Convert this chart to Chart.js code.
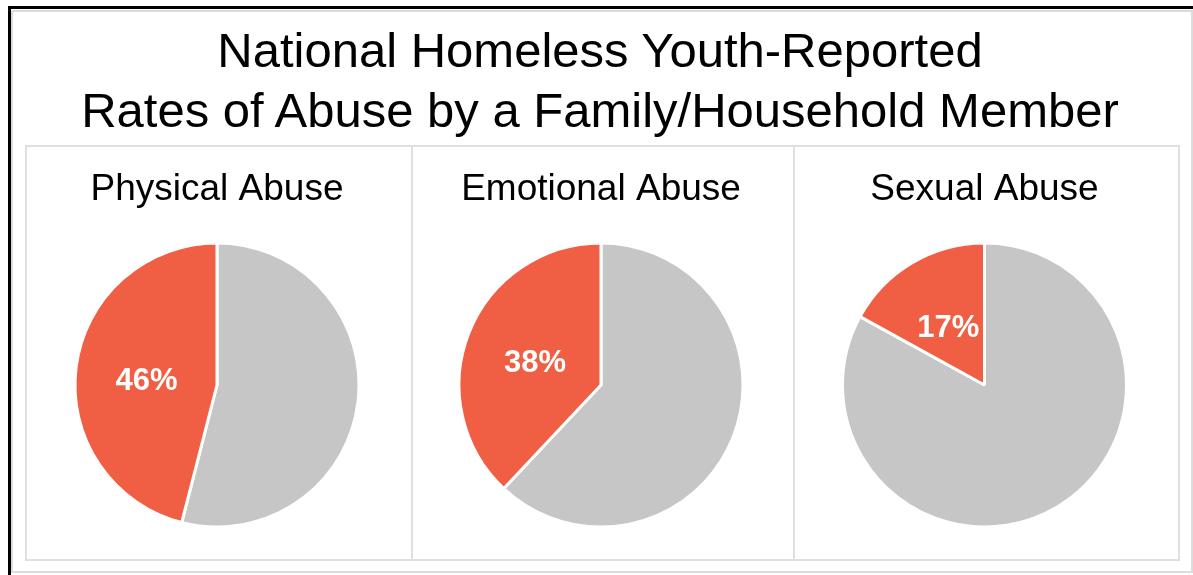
<!DOCTYPE html>
<html>
<head>
<meta charset="utf-8">
<script src="https://cdn.jsdelivr.net/npm/chart.js@4.4.1/dist/chart.umd.min.js"></script>
<style>
  html, body { margin: 0; padding: 0; background: #fff; }
  body { width: 1193px; height: 575px; position: relative; overflow: hidden; font-family: "Liberation Sans", Arial, sans-serif; }
  #frame { position: absolute; left: 8px; top: 6px; width: 1185px; height: 569px; border-left: 3px solid #000; border-top: 3px solid #000; box-sizing: border-box; }
  #inner { position: absolute; left: 11px; top: 10px; width: 1182px; height: 563px; border: 2px solid #DCDCDC; box-sizing: border-box; }
  #title { position: absolute; left: 0; top: 20px; width: 1200px; text-align: center; font-size: 49px; line-height: 60px; color: #000; }
  .panel { position: absolute; top: 145px; height: 416px; border: 2px solid #E0E0E0; box-sizing: border-box; }
  .panel canvas { display: block; }
</style>
</head>
<body>
<div id="frame"></div>
<div id="inner"></div>
<div id="title">National Homeless Youth-Reported<br>Rates of Abuse by a Family/Household Member</div>
<div class="panel" id="p0" style="left:25px; width:388px;"><canvas id="c0"></canvas></div>
<div class="panel" id="p1" style="left:411px; width:384px;"><canvas id="c1"></canvas></div>
<div class="panel" id="p2" style="left:793px; width:387px;"><canvas id="c2"></canvas></div>
<script>
// ---- Data ----
const categories = ['Physical Abuse', 'Emotional Abuse', 'Sexual Abuse'];
const sliceLabels = ['Not reported', 'Reported abuse'];
const notReportedPct = [54, 62, 83];
const reportedPct = [46, 38, 17];

const GRAY = '#C6C6C6';
const RED = '#F05E44';

const labelPlugin = {
  id: 'sliceLabel',
  afterDatasetsDraw(chart) {
    const meta = chart.getDatasetMeta(0);
    const ds = chart.data.datasets[0];
    const ctx = chart.ctx;
    const arc = meta.data[1];
    if (!arc) return;
    const pos = arc.tooltipPosition();
    ctx.save();
    ctx.fillStyle = '#FFFFFF';
    ctx.font = 'bold 31px "Liberation Sans", Arial, sans-serif';
    ctx.textAlign = 'center';
    ctx.textBaseline = 'middle';
    ctx.fillText(ds.data[1] + '%', pos.x, pos.y + 5);
    ctx.restore();
  }
};

categories.forEach((cat, i) => {
  const el = document.getElementById('c' + i);
  const panel = document.getElementById('p' + i);
  el.width = panel.clientWidth;
  el.height = panel.clientHeight;
  el.style.width = panel.clientWidth + 'px';
  el.style.height = panel.clientHeight + 'px';
  new Chart(el, {
    type: 'pie',
    data: {
      labels: sliceLabels,
      datasets: [{
        data: [notReportedPct[i], reportedPct[i]],
        backgroundColor: [GRAY, RED],
        borderColor: '#FFFFFF',
        borderWidth: 3,
        radius: 142,
        hoverOffset: 0
      }]
    },
    options: {
      responsive: false,
      animation: false,
      events: [],
      layout: { padding: { top: 0, bottom: 34, left: 0, right: 4 } },
      plugins: {
        legend: { display: false },
        tooltip: { enabled: false },
        title: {
          display: true,
          text: cat,
          color: '#000',
          font: { family: '"Liberation Sans", Arial, sans-serif', size: 37, weight: 'normal', lineHeight: 1.2 },
          padding: { top: 21, bottom: 32.6 }
        }
      }
    },
    plugins: [labelPlugin]
  });
});
</script>
</body>
</html>
